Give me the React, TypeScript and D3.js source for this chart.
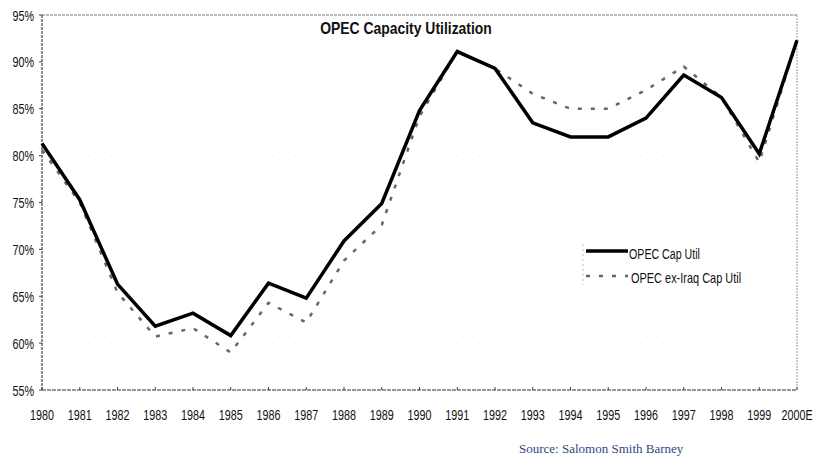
import React from "react";
import * as d3 from "d3";

const years = ["1980","1981","1982","1983","1984","1985","1986","1987","1988","1989","1990","1991","1992","1993","1994","1995","1996","1997","1998","1999","2000E"];
const capUtil = [81.3, 75.3, 66.3, 61.8, 63.2, 60.8, 66.4, 64.8, 70.9, 74.9, 84.8, 91.1, 89.3, 83.5, 82.0, 82.0, 84.0, 88.6, 86.2, 80.2, 92.3];
const exIraqCapUtil = [80.6, 75.0, 65.4, 60.7, 61.6, 59.0, 64.3, 62.2, 68.8, 72.6, 84.2, 91.1, 89.3, 86.6, 85.0, 85.0, 87.0, 89.5, 86.2, 79.3, 92.3];
const yTicks = [55, 60, 65, 70, 75, 80, 85, 90, 95];
const seriesNames = ["OPEC Cap Util", "OPEC ex-Iraq Cap Util"];

const W = 817, H = 458;
const left = 42, right = 797, top = 15, bottom = 390;
const sans = "'Liberation Sans', Arial, sans-serif";

function NText({ x, y, sx, anchor, size, bold, children }: { x: number; y: number; sx: number; anchor?: string; size: number; bold?: boolean; children: React.ReactNode }) {
  return (
    <text transform={`translate(${x},${y}) scale(${sx},1)`} textAnchor={anchor || "start"} fontFamily={sans} fontSize={size} fontWeight={bold ? "bold" : "normal"} fill="#111">{children}</text>
  );
}

export default function App() {
  const x = d3.scalePoint<string>().domain(years).range([left, right]);
  const y = d3.scaleLinear().domain([55, 95]).range([bottom, top]);
  const line = d3.line<number>().x((_, i) => x(years[i])!).y(d => y(d));

  return (
    <svg width={W} height={H} style={{ position: "absolute", left: 0, top: 0, background: "#fff" }}>
      {yTicks.slice(1, -1).map(t => (
        <line key={"g" + t} x1={left} x2={right} y1={y(t)} y2={y(t)} stroke="#ccc" strokeWidth={0.6} strokeDasharray="1 22" />
      ))}
      <line x1={left} x2={right} y1={top} y2={top} stroke="#777" strokeWidth={1} strokeDasharray="3 1" />
      <line x1={right} x2={right} y1={top} y2={bottom} stroke="#999" strokeWidth={1} strokeDasharray="2 1" />
      <line x1={left} x2={left} y1={top} y2={bottom} stroke="#444" strokeWidth={1.2} strokeDasharray="3 1" />
      <line x1={left} x2={right} y1={bottom} y2={bottom} stroke="#333" strokeWidth={1.2} strokeDasharray="4 1" />
      {yTicks.map(t => (
        <g key={"y" + t}>
          <line x1={left - 3} x2={left} y1={y(t)} y2={y(t)} stroke="#444" />
          <NText x={34} y={y(t) + 5.5} sx={0.72} anchor="end" size={15}>{t}%</NText>
        </g>
      ))}
      {years.map(yr => (
        <g key={"x" + yr}>
          <line x1={x(yr)} x2={x(yr)} y1={bottom - 3} y2={bottom} stroke="#444" />
          <NText x={x(yr)!} y={420} sx={0.72} anchor="middle" size={15}>{yr}</NText>
        </g>
      ))}
      <path d={line(exIraqCapUtil) || ""} fill="none" stroke="#666" strokeWidth={2.5} strokeDasharray="4 9" />
      <path d={line(capUtil) || ""} fill="none" stroke="#000" strokeWidth={3.5} strokeLinejoin="miter" />
      <NText x={406} y={33.5} sx={0.86} anchor="middle" size={16.2} bold>OPEC Capacity Utilization</NText>
      <line x1={583} x2={583} y1={244} y2={285} stroke="#bbb" strokeDasharray="2 3" />
      <line x1={586} x2={628} y1={251} y2={251} stroke="#000" strokeWidth={3.5} />
      <NText x={629} y={258.5} sx={0.71} size={15}>{seriesNames[0]}</NText>
      <line x1={586} x2={628} y1={276} y2={276} stroke="#666" strokeWidth={2.5} strokeDasharray="4 9" />
      <NText x={631} y={283} sx={0.73} size={15}>{seriesNames[1]}</NText>
      <text x={519} y={453} fontFamily="'Liberation Serif', 'Times New Roman', serif" fontSize={13} fill="#2b4a80">Source: Salomon Smith Barney</text>
    </svg>
  );
}
